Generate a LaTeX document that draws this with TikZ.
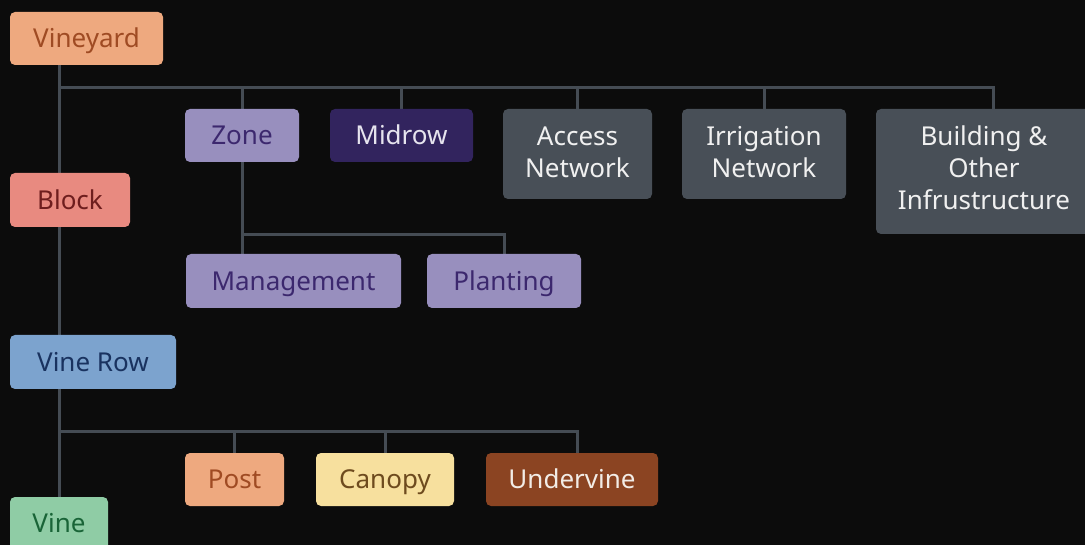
\documentclass[tikz,border=0pt]{standalone}
\usepackage{fontspec}
\setmainfont{Noto Sans}
\usetikzlibrary{backgrounds}
\definecolor{bg}{HTML}{0C0C0C}
\definecolor{wire}{HTML}{454C54}
\definecolor{orangeF}{HTML}{EEA97F}\definecolor{orangeT}{HTML}{9F4B23}
\definecolor{redF}{HTML}{E88A80}\definecolor{redT}{HTML}{6E1E1E}
\definecolor{lavF}{HTML}{988FBE}\definecolor{lavT}{HTML}{3C286E}
\definecolor{midF}{HTML}{32245E}\definecolor{midT}{HTML}{E6E4EE}
\definecolor{grayF}{HTML}{484F57}\definecolor{grayT}{HTML}{F0F0F0}
\definecolor{blueF}{HTML}{7CA3CE}\definecolor{blueT}{HTML}{19325F}
\definecolor{yelF}{HTML}{F7E09E}\definecolor{yelT}{HTML}{6E4B1E}
\definecolor{brnF}{HTML}{8B4422}\definecolor{brnT}{HTML}{F2ECE6}
\definecolor{grnF}{HTML}{8FCCA5}\definecolor{grnT}{HTML}{196437}
\tikzset{
  box/.style n args={4}{rectangle, rounded corners=5pt, draw=none, inner sep=0pt,
    minimum width=#1, minimum height=#2, fill=#3, text=#4, align=center,
    font=\fontsize{26pt}{32pt}\selectfont, text height=18.6pt, text depth=0pt},
  multi/.style n args={3}{label={[text=#1, align=center, inner sep=0pt,
    font=\fontsize{26pt}{32pt}\selectfont, yshift=#2]center:{#3}}},
  wireline/.style={draw=wire, line width=3pt}
}
\begin{document}
\begin{tikzpicture}[x=1pt,y=-1pt]
\useasboundingbox (0,0) rectangle (1085,545);
\clip (0,0) rectangle (1085,545);
\node[box={153pt}{53pt}{orangeF}{orangeT}] (vineyard) at (86.5,38.5) {Vineyard};
\node[box={120pt}{54pt}{redF}{redT}] (block) at (70,200) {Block};
\node[box={114pt}{53pt}{lavF}{lavT}] (zone) at (242,135.5) {Zone};
\node[box={143pt}{53pt}{midF}{midT}] (mid) at (401.5,135.5) {Midrow};
\node[box={149pt}{90pt}{grayF}{grayT}, multi={grayT}{2pt}{Access\\Network}] (access) at (577.5,154) {};
\node[box={164pt}{90pt}{grayF}{grayT}, multi={grayT}{2pt}{Irrigation\\Network}] (irr) at (764,154) {};
\node[box={216pt}{125pt}{grayF}{grayT}, multi={grayT}{4pt}{Building \&\\Other\\Infrustructure}] (bld) at (984,171.5) {};
\node[box={215pt}{54pt}{lavF}{lavT}] (mgmt) at (293.5,281) {Management};
\node[box={154pt}{54pt}{lavF}{lavT}] (plant) at (504,281) {Planting};
\node[box={166pt}{54pt}{blueF}{blueT}] (row) at (93,362) {Vine Row};
\node[box={99pt}{53pt}{orangeF}{orangeT}] (post) at (234.5,479.5) {Post};
\node[box={138pt}{53pt}{yelF}{yelT}] (canopy) at (385,479.5) {Canopy};
\node[box={172pt}{53pt}{brnF}{brnT}] (under) at (572,479.5) {Undervine};
\node[box={98pt}{53pt}{grnF}{grnT}] (vine) at (59,523.5) {Vine};
\coordinate (h1) at (59,88);
\coordinate (h2) at (242,235);
\coordinate (h3) at (59,431);
\begin{pgfonlayer}{background}
\fill[bg] (0,0) rectangle (1085,545);
\draw[wireline] (vine.north) -- (vine.north |- vineyard.south);
\draw[wireline] (h1) -| (zone.north);
\draw[wireline] (h1) -| (mid.north);
\draw[wireline] (h1) -| (access.north);
\draw[wireline] (h1) -| (irr.north);
\draw[wireline] (h1) -| ([xshift=9pt]bld.north);
\draw[wireline] (zone.south) -- (zone.south |- mgmt.north);
\draw[wireline] (h2) -| (plant.north);
\draw[wireline] (h3) -| (post.north);
\draw[wireline] (h3) -| (canopy.north);
\draw[wireline] (h3) -| ([xshift=5.5pt]under.north);
\end{pgfonlayer}
\end{tikzpicture}
\end{document}
